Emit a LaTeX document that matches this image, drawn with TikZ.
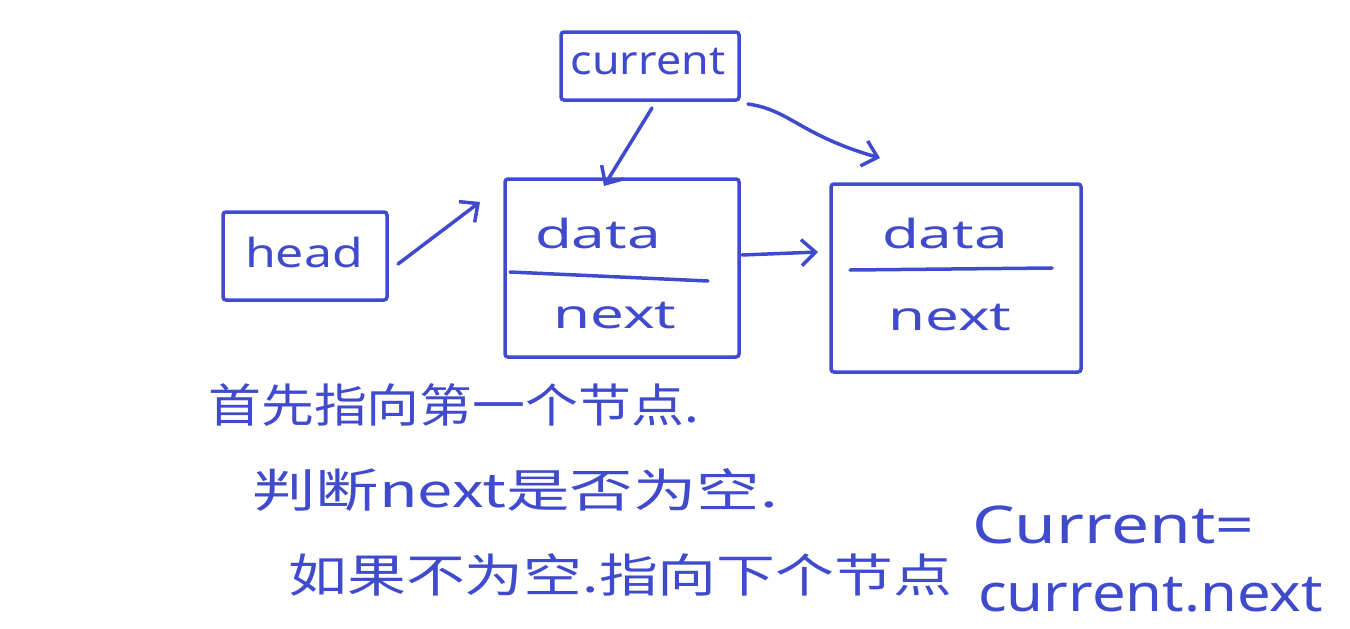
\documentclass[tikz,border=0pt]{standalone}
\usepackage{fontspec}
\setmainfont{Noto Sans}
\newfontfamily\cjk{Noto Sans CJK SC}
\usetikzlibrary{arrows.meta}
\definecolor{ink}{HTML}{3F4BCC}
\tikzset{
  box/.style={draw=ink, line width=3.5pt, rounded corners=3pt, inner sep=0pt},
  lbl/.style={text=ink, font=\fontsize{40}{44}\selectfont},
  cn/.style={text=ink, font=\cjk\fontsize{46}{50}\selectfont, anchor=west, inner sep=0pt},
  big/.style={text=ink, anchor=west, inner sep=0pt, font=\fontsize{52}{56}\selectfont},
  arr/.style={draw=ink, line width=3.5pt, line cap=round, -{Straight Barb[length=14pt,width=26pt,line width=3.5pt]}}
}
\begin{document}
\begin{tikzpicture}[x=1pt,y=-1pt]
\useasboundingbox (0,0) rectangle (1350,629);
% current box
\node[box, minimum width=178pt, minimum height=68pt] (cur) at (650,66) {};
\node[lbl, xscale=1.12] (curt) at (648,62) {current};
% head box
\node[box, minimum width=164pt, minimum height=88pt] (head) at (305,256) {};
\node[lbl, xscale=1.25] (headt) at (304,252) {head};
% node 1
\node[box, minimum width=234pt, minimum height=178pt] (n1) at (622,268) {};
\coordinate (d1l) at (510,272);
\coordinate (d1r) at (708,281);
\draw[ink, line width=3.5pt, line cap=round] (d1l) -- (d1r);
\node[lbl, xscale=1.5] (n1d) at (598,233) {data};
\node[lbl, xscale=1.5] (n1n) at (615,316) {next};
% node 2
\node[box, minimum width=250pt, minimum height=188pt] (n2) at (956,278) {};
\coordinate (d2l) at (850,270);
\coordinate (d2r) at (1052,268);
\draw[ink, line width=3.5pt, line cap=round] (d2l) -- (d2r);
\node[lbl, xscale=1.5] (n2d) at (945,233) {data};
\node[lbl, xscale=1.5] (n2n) at (950,318) {next};
% connectors
\coordinate (h1) at (398,264);
\coordinate (h2) at (480,202);
\draw[arr] (h1) -- (h2);
\coordinate (c1) at (652,108);
\coordinate (c2) at (604,186);
\draw[arr] (c1) -- (c2);
\coordinate (c3) at (748,104);
\coordinate (c4) at (880,158);
\draw[arr] (c3) .. controls (790,110) and (800,135) .. (c4);
\coordinate (m1) at (742,255);
\coordinate (m2) at (818,252);
\draw[arr] (m1) -- (m2);
% text
\node[cn, xscale=1.15] (t1) at (208,405) {首先指向第一个节点.};
\node[cn, xscale=1.38] (t2) at (252,490) {判断next是否为空.};
\node[cn, xscale=1.28] (t3) at (288,575) {如果不为空.指向下个节点};
\node[big, xscale=1.3] (t4) at (972,525) {Current=};
\node[big, xscale=1.15] (t5) at (978,595) {current.next};
\end{tikzpicture}
\end{document}
